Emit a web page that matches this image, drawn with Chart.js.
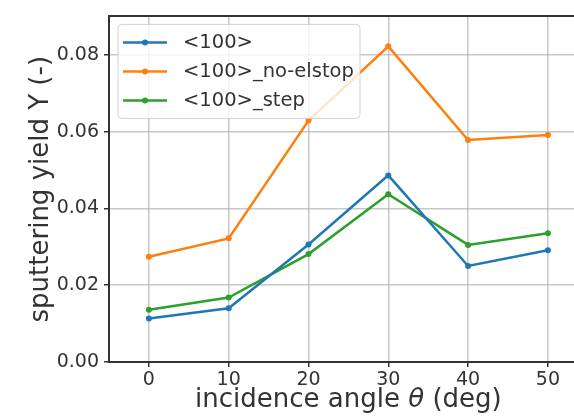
<!DOCTYPE html>
<html>
<head>
<meta charset="utf-8">
<script src="https://cdn.jsdelivr.net/npm/chart.js@4/dist/chart.umd.min.js"></script>
<style>
  html, body { margin: 0; padding: 0; background: #fff; overflow: hidden; }
  #wrap { width: 574px; height: 419px; overflow: hidden; }
</style>
</head>
<body>
<div id="wrap"><canvas id="c" width="582" height="419"></canvas></div>
<script>
const angles = [0, 10, 20, 30, 40, 50];
const yield100 = [0.0113, 0.0140, 0.0306, 0.0486, 0.0250, 0.0291];
const yieldNoElstop = [0.0274, 0.0322, 0.0629, 0.0822, 0.0578, 0.0591];
const yieldStep = [0.0136, 0.0168, 0.0281, 0.0437, 0.0305, 0.0335];
const seriesLabels = ['<100>', '<100>_no-elstop', '<100>_step'];
const seriesColors = ['#1f77b4', '#ff7f0e', '#2ca02c'];
const xTickValues = [0, 10, 20, 30, 40, 50];
const yTickValues = [0, 0.02, 0.04, 0.06, 0.08];
const xTitleParts = ['incidence angle ', 'θ', ' (deg)'];
const yTitle = 'sputtering yield Y (-)';

const FONT = "'DejaVu Sans', sans-serif";
const TEXT = '#333333';
const TITLE_SIZE = 26;

function toPts(vals) { return angles.map((a, i) => ({ x: a, y: vals[i] })); }
const allSeries = [yield100, yieldNoElstop, yieldStep];

const datasets = allSeries.map((vals, i) => ({
  label: seriesLabels[i],
  data: toPts(vals),
  borderColor: seriesColors[i],
  backgroundColor: seriesColors[i],
  borderWidth: 2.5,
  pointRadius: 3,
  pointHoverRadius: 3,
  pointBorderWidth: 0,
  tension: 0
}));

const framePlugin = {
  id: 'frame',
  afterDatasetsDraw(chart) {
    const { ctx, chartArea: a } = chart;
    const L = Math.round(a.left), T = Math.round(a.top), B = Math.round(a.bottom);
    const W = chart.width;
    ctx.save();
    ctx.fillStyle = '#333';
    ctx.fillRect(L - 1, T - 1, W - L + 1, 2);
    ctx.fillRect(L - 1, T - 1, 2, B - T + 2);
    ctx.fillRect(L - 1, B - 1, W - L + 1, 2);
    ctx.restore();
  }
};

const xTitlePlugin = {
  id: 'xTitle',
  afterDraw(chart) {
    const { ctx } = chart;
    const cx = (chart.scales.x.getPixelForValue(-5) + chart.scales.x.getPixelForValue(55)) / 2;
    const cy = 400;
    const normal = TITLE_SIZE + 'px ' + FONT;
    const italic = 'italic ' + TITLE_SIZE + 'px ' + FONT;
    ctx.save();
    ctx.fillStyle = TEXT;
    ctx.textBaseline = 'middle';
    ctx.textAlign = 'left';
    const fonts = [normal, italic, normal];
    const widths = xTitleParts.map((t, i) => { ctx.font = fonts[i]; return ctx.measureText(t).width; });
    let x = cx - widths.reduce((p, q) => p + q, 0) / 2;
    xTitleParts.forEach((t, i) => { ctx.font = fonts[i]; ctx.fillText(t, x, cy); x += widths[i]; });
    ctx.restore();
  }
};

const legendPlugin = {
  id: 'innerLegend',
  afterDraw(chart) {
    const { ctx, chartArea: a } = chart;
    const x0 = a.left + 9, y0 = a.top + 8, w = 242, h = 94, r = 4;
    ctx.save();
    ctx.fillStyle = 'rgba(255,255,255,0.8)';
    ctx.strokeStyle = 'rgba(204,204,204,0.9)';
    ctx.lineWidth = 1;
    ctx.beginPath();
    ctx.roundRect(x0, y0, w, h, r);
    ctx.fill();
    ctx.stroke();
    ctx.font = '19.5px ' + FONT;
    ctx.textBaseline = 'middle';
    ctx.textAlign = 'left';
    chart.data.datasets.forEach((ds, i) => {
      const cy = y0 + 18 + i * 29;
      ctx.strokeStyle = ds.borderColor;
      ctx.lineWidth = 2.5;
      ctx.beginPath();
      ctx.moveTo(x0 + 5, cy);
      ctx.lineTo(x0 + 49, cy);
      ctx.stroke();
      ctx.fillStyle = ds.borderColor;
      ctx.beginPath();
      ctx.arc(x0 + 27, cy, 3, 0, Math.PI * 2);
      ctx.fill();
      ctx.fillStyle = TEXT;
      ctx.fillText(ds.label, x0 + 65, cy + 1);
    });
    ctx.restore();
  }
};

new Chart(document.getElementById('c'), {
  type: 'line',
  data: { datasets },
  plugins: [framePlugin, xTitlePlugin, legendPlugin],
  options: {
    responsive: false,
    animation: false,
    events: [],
    layout: { padding: { left: 0, right: 0, top: 10, bottom: 0 } },
    plugins: { legend: { display: false }, tooltip: { enabled: false } },
    scales: {
      x: {
        type: 'linear',
        min: -5,
        max: 53.9,
        afterBuildTicks(s) { s.ticks = xTickValues.map(v => ({ value: v })); },
        afterFit(s) { s.height = 57; },
        grid: { color: 'rgba(176,176,176,0.7)', lineWidth: 1.5, tickLength: 5, tickColor: '#333', tickWidth: 1.5 },
        border: { display: false },
        ticks: { font: { family: FONT, size: 19 }, color: TEXT, padding: 2, maxRotation: 0, autoSkip: false },
        title: { display: false }
      },
      y: {
        type: 'linear',
        min: 0,
        max: 0.09,
        afterBuildTicks(s) { s.ticks = yTickValues.map(v => ({ value: v })); },
        afterFit(s) { s.width = 109; },
        grid: { color: 'rgba(176,176,176,0.7)', lineWidth: 1.5, tickLength: 5, tickColor: '#333', tickWidth: 1.5 },
        border: { display: false },
        ticks: { font: { family: FONT, size: 19 }, color: TEXT, padding: 5, autoSkip: false, callback: v => v.toFixed(2) },
        title: { display: true, text: yTitle, font: { family: FONT, size: TITLE_SIZE }, color: TEXT, padding: { top: 26, bottom: 0 } }
      }
    }
  }
});
</script>
</body>
</html>
